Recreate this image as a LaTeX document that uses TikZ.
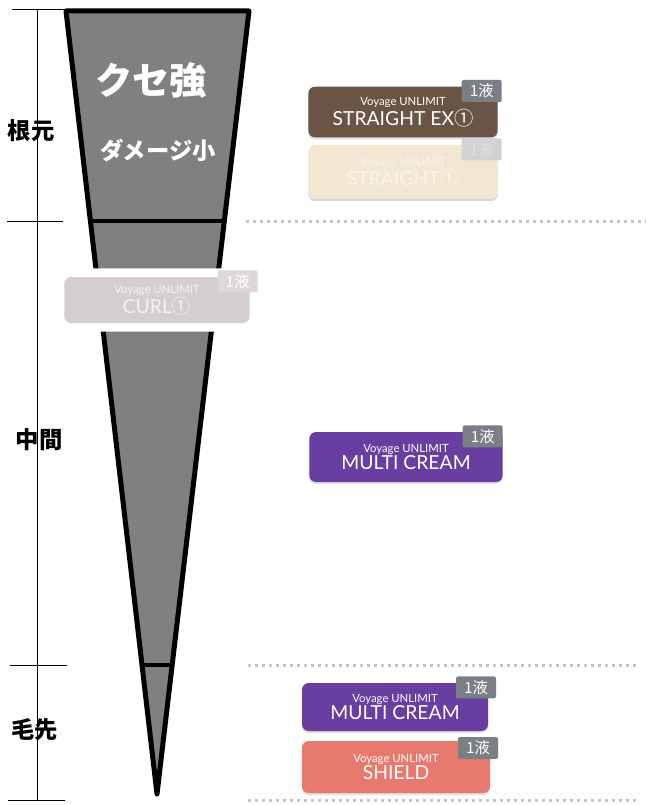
\documentclass[tikz,border=0pt]{standalone}
\usepackage{fontspec}
\setmainfont{Lato}
\newfontfamily\jpfont{Noto Sans CJK JP}
\usetikzlibrary{calc,shadows}
\definecolor{conegray}{RGB}{128,128,128}
\definecolor{exbrown}{RGB}{106,84,70}
\definecolor{paleivory}{RGB}{241,231,210}
\definecolor{curlgray}{RGB}{214,207,207}
\definecolor{creampurple}{RGB}{104,62,160}
\definecolor{shieldpink}{RGB}{232,121,111}
\definecolor{taggray}{RGB}{122,126,133}
\definecolor{dotgray}{RGB}{198,198,198}
\tikzset{every picture/.style={line width=0.75pt}}
\tikzset{
  badge/.style={rounded corners=5pt, minimum width=142pt, minimum height=37.5pt, inner sep=0pt, align=center, text=white,
    drop shadow={opacity=0.25, shadow xshift=0pt, shadow yshift=-1.5pt}},
  tag/.style={rounded corners=1.5pt, fill=taggray, text=white, minimum width=30pt, minimum height=16.5pt, inner sep=0pt, anchor=north east, font=\jpfont\fontsize{11.5}{11.5}\selectfont},
  sideline/.style={dotgray, line width=2.25pt, dash pattern=on 2.25pt off 3pt},
  zone/.style={font=\jpfont\bfseries\fontsize{17.5}{17.5}\selectfont}
}
\newcommand{\badgetext}[1]{{\fontsize{8.5}{8.5}\selectfont Voyage UNLIMIT}\\[0pt]{\fontsize{14.5}{14.5}\selectfont #1}}

\begin{document}
\begin{tikzpicture}[x=0.75pt,y=0.75pt,yscale=-1,xscale=1]
\useasboundingbox (0,0) rectangle (646,805);

%Shape: Triangle
\coordinate (tl) at (66,11);
\coordinate (tr) at (249,11);
\coordinate (apex) at (157,794);
\draw [fill=conegray, line width=3.75pt, line join=round] (tl) -- (tr) -- (apex) -- cycle ;
%Straight Lines
\draw [line width=3pt] ($(tl)!0.268!(apex)$) -- ($(tr)!0.268!(apex)$) ;
\draw [line width=3pt] ($(tl)!0.835!(apex)$) -- ($(tr)!0.835!(apex)$) ;

%Straight Lines
\draw (37,10) -- (37,800) ;
\draw (12,10) -- (66,10) ;
\draw (7,222) -- (63,222) ;
\draw (10,665) -- (67,665) ;
\draw (8,800) -- (65,800) ;

%Straight Lines
\draw [sideline] (246,222) -- (646,222) ;
\draw [sideline] (248,665) -- (637,665) ;
\draw [sideline] (248,800) -- (637,800) ;

% Text Node
\node [zone] (root) at (31,131) {根元};
% Text Node
\node [zone] (middle) at (39,440) {中間};
% Text Node
\node [zone] (tip) at (35,730) {毛先};
% Text Node
\node [text=white, font=\jpfont\bfseries\fontsize{28}{28}\selectfont] (kuse) at (151,80) {クセ強};
% Text Node
\node [text=white, font=\jpfont\bfseries\fontsize{17.5}{17.5}\selectfont] (damage) at (158,150) {ダメージ小};

%Shape: Badges
\node [badge, fill=exbrown, minimum height=38pt] (sx) at (403,112) {\badgetext{STRAIGHT EX{\jpfont ①}}};
\node [tag] (sxtag) at ([xshift=3pt,yshift=-5pt]sx.north east) {1液};
\node [badge, fill=paleivory, minimum height=40.5pt, text=white!55!paleivory, drop shadow={opacity=0.08, shadow xshift=0pt, shadow yshift=-1.5pt}] (st) at (403,172) {\badgetext{STRAIGHT{\jpfont ①}}};
\node [tag, fill=taggray!35, text=white!75!taggray] (sttag) at ([xshift=3pt,yshift=-5pt]st.north east) {1液};
\node [badge, fill=curlgray, minimum width=139pt, minimum height=34.5pt, text=white!70!curlgray, drop shadow={opacity=0.08, shadow xshift=0pt, shadow yshift=-1.5pt}, preaction={draw=white, line width=13pt}] (curl) at (157,300) {\badgetext{CURL{\jpfont ①}}};
\node [tag, fill=curlgray!80!white, text=white] (curltag) at ([xshift=6pt,yshift=-5pt]curl.north east) {1液};
\node [badge, fill=creampurple, minimum width=145pt] (cream) at (406,457) {\badgetext{MULTI CREAM}};
\node [tag] (creamtag) at ([xshift=0pt,yshift=-5pt]cream.north east) {1液};
\node [badge, fill=creampurple, minimum width=139.5pt, minimum height=36pt] (creamtip) at (395,707) {\badgetext{MULTI CREAM}};
\node [tag] (creamtiptag) at ([xshift=6pt,yshift=-5pt]creamtip.north east) {1液};
\node [badge, fill=shieldpink, minimum width=141pt, minimum height=39pt] (shield) at (396,767) {\badgetext{SHIELD}};
\node [tag] (shieldtag) at ([xshift=6pt,yshift=-3pt]shield.north east) {1液};

\end{tikzpicture}
\end{document}
